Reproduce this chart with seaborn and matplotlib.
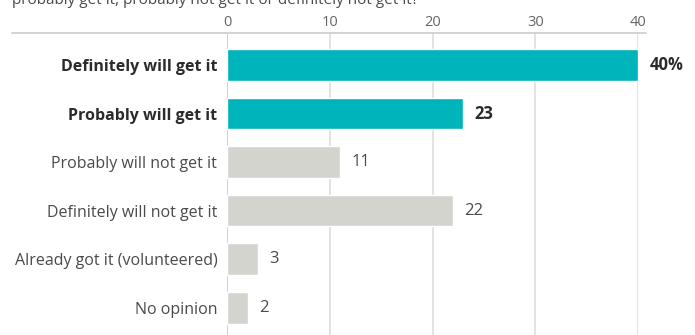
import matplotlib
matplotlib.use("Agg")
import matplotlib.pyplot as plt
from matplotlib.lines import Line2D
import seaborn as sns
import pandas as pd

categories = [
    "Definitely will get it",
    "Probably will get it",
    "Probably will not get it",
    "Definitely will not get it",
    "Already got it (volunteered)",
    "No opinion",
]
values = [40, 23, 11, 22, 3, 2]
value_labels = ["40%", "23", "11", "22", "3", "2"]
emphasis = [True, True, False, False, False, False]
ticks = [0, 10, 20, 30, 40]
question_tail = "probably get it, probably not get it or definitely not get it?"

TEAL = "#00b4bb"
GRAY = "#d4d4cf"
TEXT = "#2b2b2b"
MUTED = "#4a4a4a"

sns.set_theme(style="white")
plt.rcParams["font.family"] = ["Open Sans", "DejaVu Sans"]

df = pd.DataFrame({"category": categories, "value": values,
                   "group": ["hi" if e else "lo" for e in emphasis]})

fig = plt.figure(figsize=(6.95, 3.35), dpi=100)
ax = fig.add_axes([227 / 695, 0, (638 - 227) / 695, 1 - 33 / 335])

sns.barplot(data=df, y="category", x="value", hue="group",
            palette={"hi": TEAL, "lo": GRAY}, orient="h", saturation=1,
            width=0.65, dodge=False, legend=False, ax=ax, zorder=3)

ax.set_xlim(0, 40)
ax.set_ylim(5.56, -0.66)
ax.set_xlabel("")
ax.set_ylabel("")
ax.xaxis.tick_top()
ax.set_xticks(ticks)
ax.set_xticklabels([str(t) for t in ticks], fontsize=10.5, color="#666666")
ax.tick_params(axis="x", length=0, pad=2)
ax.tick_params(axis="y", length=0, pad=7)
for lbl, e in zip(ax.get_yticklabels(), emphasis):
    lbl.set_fontsize(11.5)
    lbl.set_color(TEXT if e else MUTED)
    lbl.set_fontweight("bold" if e else "normal")

for s in ax.spines.values():
    s.set_visible(False)
for t in ticks:
    ax.axvline(t, color="#c8c8c8" if t == 0 else "#dddddd", lw=1.2, zorder=1)

for i, (v, lab, e) in enumerate(zip(values, value_labels, emphasis)):
    ax.text(v + 1.1, i, lab, va="center", ha="left", fontsize=12,
            color=TEXT if e else MUTED, fontweight="bold" if e else "normal")

# rule under the tick labels, running across the label column
fig.add_artist(Line2D([12 / 695, 646 / 695], [1 - 33 / 335] * 2,
                      color="#cccccc", lw=1.2))
fig.text(12 / 695, 1 - 4 / 335, question_tail, fontsize=11, color=MUTED,
         va="baseline", ha="left")

fig.savefig("out.png", dpi=100)
